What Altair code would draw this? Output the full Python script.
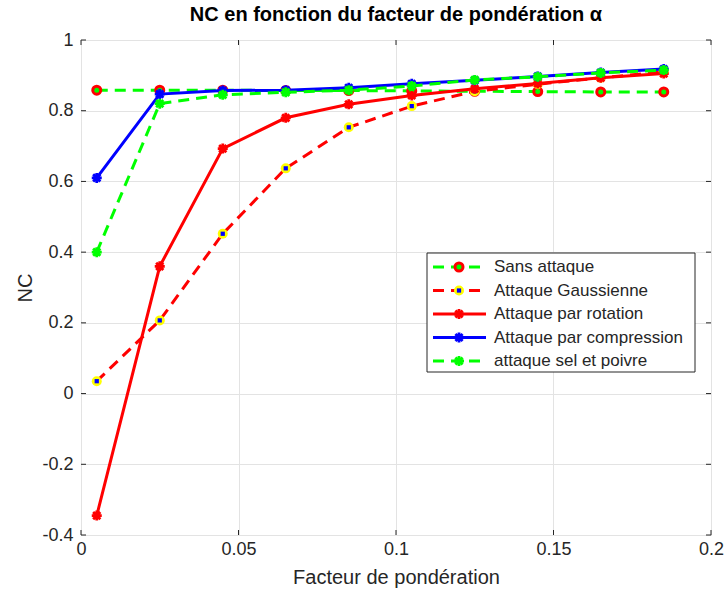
import altair as alt
import pandas as pd

# ---- data ----
x_vals = [0.005, 0.025, 0.045, 0.065, 0.085, 0.105, 0.125, 0.145, 0.165, 0.185]
sans_attaque = [0.858, 0.858, 0.858, 0.857, 0.857, 0.856, 0.855, 0.854, 0.853, 0.853]
gaussienne = [0.035, 0.207, 0.452, 0.637, 0.753, 0.813, 0.855, 0.875, 0.893, 0.910]
rotation = [-0.345, 0.360, 0.693, 0.780, 0.818, 0.843, 0.862, 0.877, 0.893, 0.905]
compression = [0.610, 0.847, 0.857, 0.858, 0.865, 0.876, 0.886, 0.897, 0.908, 0.918]
sel_poivre = [0.400, 0.820, 0.845, 0.852, 0.858, 0.870, 0.887, 0.896, 0.907, 0.915]

series_names = ["Sans attaque", "Attaque Gaussienne", "Attaque par rotation",
                "Attaque par compression", "attaque sel et poivre"]
series_values = [sans_attaque, gaussienne, rotation, compression, sel_poivre]

x_ticks = [0, 0.05, 0.1, 0.15, 0.2]
y_ticks = [-0.4, -0.2, 0, 0.2, 0.4, 0.6, 0.8, 1]

GREEN, RED, BLUE, YELLOW = "#00FF00", "#FF0000", "#0000FF", "#FFFF00"
DASH = [11, 7]
STAR = "M-1,0H1M0,-1V1M-0.72,-0.72L0.72,0.72M-0.72,0.72L0.72,-0.72"

styles = [
    dict(color=GREEN, dash=DASH, marker="circle_red"),
    dict(color=RED, dash=DASH, marker="square_yb"),
    dict(color=RED, dash=None, marker="star"),
    dict(color=BLUE, dash=None, marker="star"),
    dict(color=GREEN, dash=DASH, marker="star"),
]

W, H = 630, 495
AX = "#262626"
FONT = "Liberation Sans"

xs = alt.Scale(domain=[0, 0.2], nice=False, zero=False)
ys = alt.Scale(domain=[-0.4, 1], nice=False, zero=False)

x_axis = alt.Axis(values=x_ticks, grid=True, gridColor="#e3e3e3", domain=False, ticks=False,
                  labelExpr="toString(datum.value)", labelFontSize=18, labelColor=AX,
                  labelPadding=5, title="Facteur de pondération", titleFontSize=20,
                  titleFontWeight="normal", titleColor=AX, titlePadding=9, labelFont=FONT,
                  titleFont=FONT, labelFlush=False)
y_axis = alt.Axis(values=y_ticks, grid=True, gridColor="#e3e3e3", domain=False, ticks=False,
                  labelExpr="toString(datum.value)", labelFontSize=18, labelColor=AX,
                  labelPadding=8, title="NC", titleFontSize=20, titleFontWeight="normal",
                  titleColor=AX, titlePadding=6, labelFont=FONT, titleFont=FONT,
                  labelFlush=False)

EX = alt.X("x:Q", scale=xs, axis=x_axis)
EY = alt.Y("y:Q", scale=ys, axis=y_axis)


def marker_layers(base, marker, color, enc_x, enc_y):
    if marker == "circle_red":
        return [base.mark_point(shape="circle", size=64, filled=False, stroke=RED,
                                strokeWidth=3, fill=GREEN, fillOpacity=1, opacity=1)
                .encode(x=enc_x, y=enc_y)]
    if marker == "square_yb":
        return [base.mark_point(shape="circle", size=100, filled=True, color=YELLOW, opacity=1)
                .encode(x=enc_x, y=enc_y),
                base.mark_point(shape="square", size=18, filled=True, color=BLUE, opacity=1)
                .encode(x=enc_x, y=enc_y)]
    return [base.mark_point(shape=STAR, size=100, filled=False, stroke=color,
                            strokeWidth=2.8, opacity=1)
            .encode(x=enc_x, y=enc_y)]


layers = []
for name, vals, st in zip(series_names, series_values, styles):
    df = pd.DataFrame({"x": x_vals, "y": vals})
    base = alt.Chart(df)
    line_kw = dict(color=st["color"], strokeWidth=3, clip=True)
    if st["dash"]:
        line_kw["strokeDash"] = st["dash"]
    layers.append(base.mark_line(**line_kw).encode(x=EX, y=EY))
    layers.extend(marker_layers(base, st["marker"], st["color"], EX, EY))

# inward ticks (MATLAB style)
xt = alt.Chart(pd.DataFrame({"x": x_ticks}))
yt = alt.Chart(pd.DataFrame({"y": y_ticks}))
layers += [
    xt.mark_rule(color=AX, strokeWidth=1).encode(x=EX, y=alt.value(H), y2=alt.value(H - 5)),
    xt.mark_rule(color=AX, strokeWidth=1).encode(x=EX, y=alt.value(0), y2=alt.value(5)),
    yt.mark_rule(color=AX, strokeWidth=1).encode(y=EY, x=alt.value(0), x2=alt.value(5)),
    yt.mark_rule(color=AX, strokeWidth=1).encode(y=EY, x=alt.value(W), x2=alt.value(W - 5)),
]

# custom legend
LX0, LX1, LY0, LY1 = 346, 614, 213, 332
row_y = [227, 250.5, 274, 297.5, 321]
leg_base = alt.Chart(pd.DataFrame({"a": [0]}))
layers.append(leg_base.mark_rect(fill="white", stroke=AX, strokeWidth=1).encode(
    x=alt.value(LX0), x2=alt.value(LX1), y=alt.value(LY0), y2=alt.value(LY1)))
for name, st, ry in zip(series_names, styles, row_y):
    kw = dict(color=st["color"], strokeWidth=3)
    if st["dash"]:
        kw["strokeDash"] = st["dash"]
    layers.append(leg_base.mark_rule(**kw).encode(
        x=alt.value(352), x2=alt.value(405), y=alt.value(ry)))
    layers.extend(marker_layers(leg_base, st["marker"], st["color"],
                                alt.value(378), alt.value(ry)))
    layers.append(alt.Chart(pd.DataFrame({"t": [name]})).mark_text(
        align="left", baseline="middle", fontSize=17, font=FONT, color=AX).encode(
        x=alt.value(413), y=alt.value(ry), text="t:N"))

chart = alt.layer(*layers).properties(
    width=W, height=H,
    autosize=alt.AutoSizeParams(type="none"),
    padding={"left": 81, "top": 40, "right": 13, "bottom": 58},
    title=alt.TitleParams("NC en fonction du facteur de pondération α", fontSize=20,
                          fontWeight="bold", font=FONT, color="black", offset=6,
                          anchor="middle"),
).configure_view(stroke=AX, strokeWidth=1).configure(background="white")

chart.save("out.html", embed_options={"renderer": "svg", "actions": False})
